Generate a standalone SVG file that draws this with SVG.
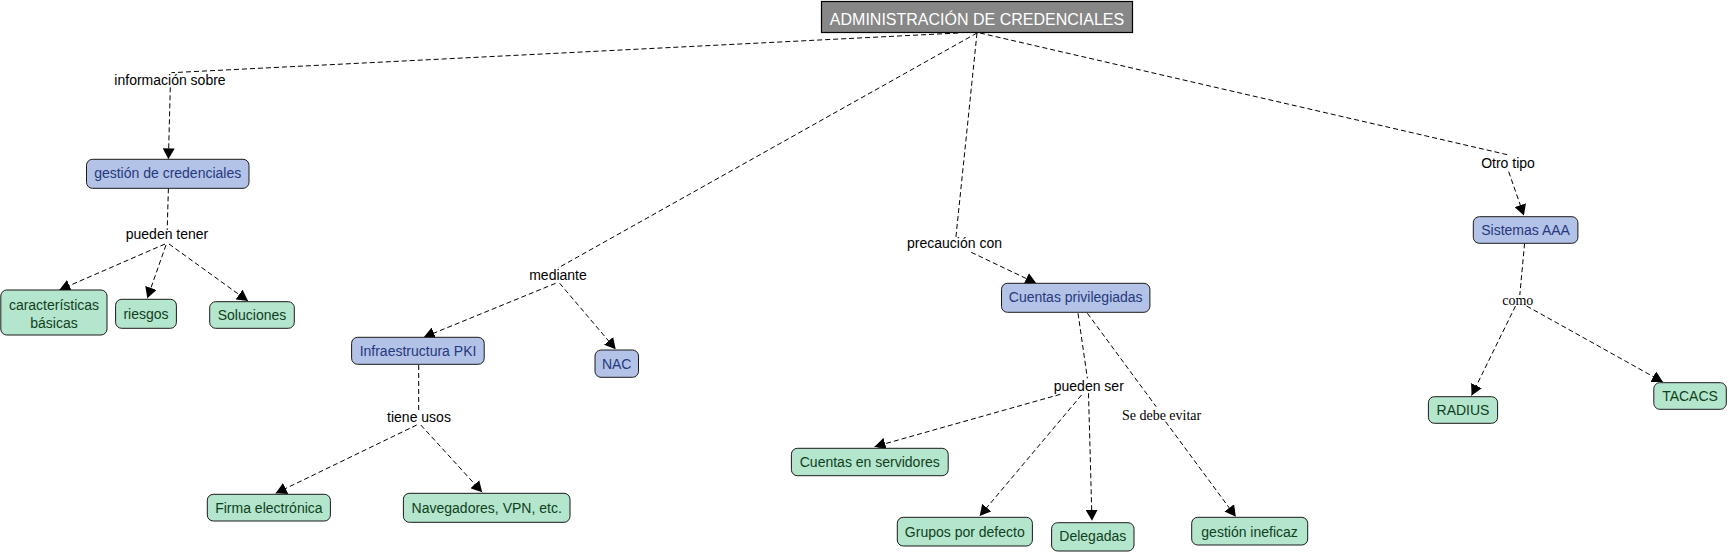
<svg xmlns="http://www.w3.org/2000/svg" width="1729" height="553" viewBox="0 0 1729 553">
<style>
  .c { stroke: #000; stroke-width: 1; stroke-dasharray: 5,3; fill: none; }
  .a { marker-end: url(#arr); }
  .lbl { font-family: "Liberation Sans", Arial, sans-serif; font-size: 14px; fill: #000; text-anchor: middle; }
  .lbls { font-family: "Liberation Serif", "Times New Roman", serif; font-size: 14px; fill: #000; text-anchor: middle; }
  .blue rect { fill: #b3c2e7; stroke: #1a1a1a; stroke-width: 1; }
  .blue text { font-family: "Liberation Sans", Arial, sans-serif; font-size: 14px; fill: #26397c; text-anchor: middle; }
  .green rect { fill: #b4e5cd; stroke: #1a1a1a; stroke-width: 1; }
  .green text { font-family: "Liberation Sans", Arial, sans-serif; font-size: 14px; fill: #103f1c; text-anchor: middle; }
  .title rect { fill: #878787; stroke: #000; stroke-width: 1.2; }
  .title text { font-family: "Liberation Sans", Arial, sans-serif; font-size: 16px; fill: #fff; text-anchor: middle; }
</style>
<defs>
  <marker id="arr" markerUnits="userSpaceOnUse" markerWidth="12" markerHeight="12" refX="11" refY="6" orient="auto">
    <path d="M0,0 L11,6 L0,12 z" fill="#000"/>
  </marker>
</defs>
<rect width="1729" height="553" fill="#fff"/>

<g id="connectors">
  <line class="c" x1="958" y1="33" x2="171.4" y2="72.7"/>
  <line class="c a" x1="170.3" y1="87.3" x2="168.4" y2="159.3"/>
  <line class="c" x1="168.4" y1="188.3" x2="167.2" y2="230"/>
  <line class="c a" x1="165" y1="244" x2="59.3" y2="290"/>
  <line class="c a" x1="166" y1="245" x2="147.3" y2="298.3"/>
  <line class="c a" x1="169" y1="244" x2="248" y2="301"/>
  <line class="c" x1="977" y1="33" x2="558" y2="268"/>
  <line class="c a" x1="555.6" y1="283.3" x2="423.7" y2="337.3"/>
  <line class="c a" x1="559.7" y1="283.3" x2="615.7" y2="349.3"/>
  <line class="c" x1="418.7" y1="365" x2="418.7" y2="411.7"/>
  <line class="c a" x1="416.7" y1="425" x2="275.7" y2="493.3"/>
  <line class="c a" x1="420.8" y1="425" x2="482.2" y2="492.3"/>
  <line class="c" x1="977" y1="33" x2="955.9" y2="237.3"/>
  <line class="c a" x1="971.2" y1="252.3" x2="1036.3" y2="283.3"/>
  <line class="c" x1="1078" y1="313.3" x2="1087.4" y2="378.3"/>
  <line class="c a" x1="1060.4" y1="394.3" x2="874.5" y2="446.7"/>
  <line class="c a" x1="1081.5" y1="395" x2="979.7" y2="516"/>
  <line class="c a" x1="1088.5" y1="393.3" x2="1092" y2="520.7"/>
  <line class="c" x1="1087.4" y1="313.3" x2="1156.2" y2="406.7"/>
  <line class="c a" x1="1165.6" y1="421.7" x2="1235.8" y2="516.7"/>
  <line class="c" x1="980" y1="33" x2="1508.7" y2="155"/>
  <line class="c a" x1="1508.7" y1="171.7" x2="1523.9" y2="215.5"/>
  <line class="c" x1="1524.6" y1="243.3" x2="1519.8" y2="295"/>
  <line class="c a" x1="1515.5" y1="306" x2="1471.6" y2="395.5"/>
  <line class="c a" x1="1526.6" y1="306" x2="1662.9" y2="382"/>
</g>

<g id="link-labels">
  <text class="lbl" x="170" y="85">información sobre</text>
  <text class="lbl" x="167" y="239">pueden tener</text>
  <text class="lbl" x="558" y="280">mediante</text>
  <text class="lbl" x="419" y="421.5">tiene usos</text>
  <text class="lbl" x="954.5" y="248">precaución con</text>
  <text class="lbl" x="1088.8" y="390.5">pueden ser</text>
  <text class="lbls" x="1161.6" y="419.5">Se debe evitar</text>
  <text class="lbl" x="1508" y="167.5">Otro tipo</text>
  <text class="lbls" x="1517.8" y="304.5">como</text>
</g>

<g id="n-title" class="title">
  <rect x="821.5" y="1.5" width="311" height="31"/>
  <text x="977" y="24.5">ADMINISTRACIÓN DE CREDENCIALES</text>
</g>
<g id="n-gestion" class="blue">
  <rect x="86.5" y="159.3" width="162.5" height="29" rx="6"/>
  <text x="167.7" y="178.3">gestión de credenciales</text>
</g>
<g id="n-caracteristicas" class="green">
  <rect x="0.8" y="290" width="106.2" height="45" rx="6"/>
  <text x="54" y="310">características</text>
  <text x="54" y="327.7">básicas</text>
</g>
<g id="n-riesgos" class="green">
  <rect x="115.6" y="299.3" width="60.8" height="29" rx="6"/>
  <text x="146" y="318.5">riesgos</text>
</g>
<g id="n-soluciones" class="green">
  <rect x="209.7" y="301.7" width="84.6" height="26.6" rx="6"/>
  <text x="252" y="320">Soluciones</text>
</g>
<g id="n-pki" class="blue">
  <rect x="351.6" y="337.3" width="132.6" height="27" rx="6"/>
  <text x="418" y="356">Infraestructura PKI</text>
</g>
<g id="n-nac" class="blue">
  <rect x="595" y="350" width="43.5" height="27.3" rx="6"/>
  <text x="616.7" y="369">NAC</text>
</g>
<g id="n-firma" class="green">
  <rect x="207.3" y="494.3" width="123.1" height="26.7" rx="6"/>
  <text x="268.9" y="512.7">Firma electrónica</text>
</g>
<g id="n-navegadores" class="green">
  <rect x="403.4" y="493.3" width="166.6" height="29" rx="6"/>
  <text x="486.7" y="512.7">Navegadores, VPN, etc.</text>
</g>
<g id="n-cuentas-priv" class="blue">
  <rect x="1001.5" y="283.3" width="148.4" height="29" rx="6"/>
  <text x="1075.7" y="301.8">Cuentas privilegiadas</text>
</g>
<g id="n-cuentas-serv" class="green">
  <rect x="791.4" y="448.3" width="156.8" height="27.4" rx="6"/>
  <text x="869.8" y="467.3">Cuentas en servidores</text>
</g>
<g id="n-grupos" class="green">
  <rect x="897.3" y="517.3" width="135.1" height="28.7" rx="6"/>
  <text x="964.8" y="536.7">Grupos por defecto</text>
</g>
<g id="n-delegadas" class="green">
  <rect x="1051.6" y="522.7" width="82.4" height="28.3" rx="6"/>
  <text x="1092.8" y="541">Delegadas</text>
</g>
<g id="n-gestion-ineficaz" class="green">
  <rect x="1191.7" y="517.3" width="116" height="27.7" rx="6"/>
  <text x="1249.6" y="537">gestión ineficaz</text>
</g>
<g id="n-sistemas" class="blue">
  <rect x="1473.3" y="216.7" width="104.6" height="26.6" rx="6"/>
  <text x="1525.6" y="235">Sistemas AAA</text>
</g>
<g id="n-radius" class="green">
  <rect x="1428.4" y="396.7" width="69.2" height="26.6" rx="6"/>
  <text x="1463" y="415">RADIUS</text>
</g>
<g id="n-tacacs" class="green">
  <rect x="1653.8" y="382.7" width="72.5" height="26.6" rx="6"/>
  <text x="1690" y="401">TACACS</text>
</g>
</svg>
